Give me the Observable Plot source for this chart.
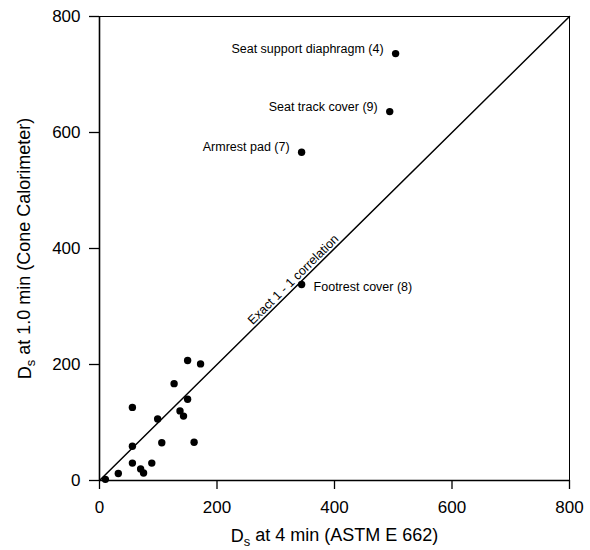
<!DOCTYPE html>
<html>
<head>
<meta charset="utf-8">
<script src="https://cdn.jsdelivr.net/npm/d3@7"></script>
<script src="https://cdn.jsdelivr.net/npm/@observablehq/plot@0.6"></script>
<style>
  html, body { margin: 0; padding: 0; background: #fff; }
  #chart { width: 590px; height: 550px; }
</style>
</head>
<body>
<div id="chart"></div>
<script>
// ---- data ----
const astm = [10, 32, 56, 56, 56, 70, 75, 89, 99, 106, 127, 137, 143, 150, 150, 161, 172, 344, 344, 494, 504];
const cone = [2, 12, 126, 59, 30, 20, 13, 30, 106, 65, 167, 120, 111, 140, 207, 66, 201, 338, 566, 636, 736];
const labelNames = ["Seat support diaphragm (4)", "Seat track cover (9)", "Armrest pad (7)", "Footrest cover (8)"];
const labelX = [504, 494, 344, 344];
const labelY = [736, 636, 566, 338];
const labelSide = ["left", "left", "left", "right"];
const tickValues = [0, 200, 400, 600, 800];
const diagonal = [0, 800];
const diagonalLabel = "Exact 1 - 1 correlation";
const diagonalLabelAt = [338];
const xTitle = "Ds at 4 min (ASTM E 662)";
const yTitle = "Ds at 1.0 min (Cone Calorimeter)";

const points = astm.map((x, i) => ({x, y: cone[i]}));
const labels = labelNames.map((name, i) => ({name, x: labelX[i], y: labelY[i], side: labelSide[i]}));

const chart = Plot.plot({
  width: 590,
  height: 550,
  marginLeft: 99,
  marginRight: 21,
  marginTop: 16,
  marginBottom: 70,
  style: {fontFamily: "'Liberation Sans', Arial, sans-serif", fontSize: "16px", color: "#000", background: "#fff"},
  x: {domain: [0, 800]},
  y: {domain: [0, 800]},
  marks: [
    Plot.frame({stroke: "#000", strokeWidth: 1}),
    Plot.axisX({ticks: tickValues, tickSize: 9, tickPadding: 11, fontSize: 17, label: null, strokeWidth: 1.3}),
    Plot.axisY({ticks: tickValues, tickSize: 10, tickPadding: 9, fontSize: 17, label: null, strokeWidth: 1.3}),
    Plot.ruleX([0], {strokeWidth: 1.6}),
    Plot.ruleY([0], {strokeWidth: 1.6}),
    Plot.line(diagonal, {x: d => d, y: d => d, stroke: "#000", strokeWidth: 1.5}),
    Plot.dot(points, {x: "x", y: "y", r: 3.7, fill: "#000", stroke: "none"}),
    Plot.text(labels.filter(d => d.side === "left"), {x: "x", y: "y", text: "name", textAnchor: "end", dx: -12, dy: -5, fontSize: 12.5}),
    Plot.text(labels.filter(d => d.side === "right"), {x: "x", y: "y", text: "name", textAnchor: "start", dx: 12, dy: 3, fontSize: 12.5}),
    Plot.text(diagonalLabelAt, {x: d => d, y: d => d, text: () => diagonalLabel, rotate: -44.7, textAnchor: "middle", lineAnchor: "bottom", dx: -2, dy: -2, fontSize: 12.5}),
    Plot.text([xTitle], {frameAnchor: "bottom", text: d => d, textAnchor: "middle", lineAnchor: "middle", dy: 56, fontSize: 18}),
    Plot.text([yTitle], {frameAnchor: "left", text: d => d, textAnchor: "middle", lineAnchor: "middle", dx: -74, rotate: -90, fontSize: 18})
  ]
});

// turn the leading "Ds" of the axis titles into D with a subscript s
d3.select(chart).selectAll("text").each(function() {
  const t = this.textContent;
  if (t === xTitle || t === yTitle) {
    const sel = d3.select(this);
    sel.text(null);
    sel.append("tspan").text("D");
    sel.append("tspan").attr("dy", "0.25em").attr("font-size", "0.72em").text("s");
    sel.append("tspan").attr("dy", "-0.25em").text(t.slice(2));
  }
});

document.getElementById("chart").appendChild(chart);
</script>
</body>
</html>
